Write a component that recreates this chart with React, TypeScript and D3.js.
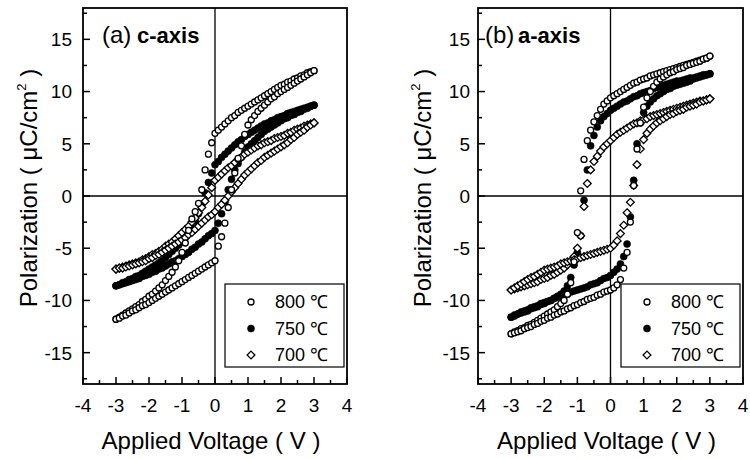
import React from 'react';
import * as d3 from 'd3';

// Applied voltage grid (V)
const VOLT = [
  -3.0, -2.9, -2.8, -2.7, -2.6, -2.5, -2.4, -2.3, -2.2, -2.1,
  -2.0, -1.9, -1.8, -1.7, -1.6, -1.5, -1.4, -1.3, -1.2, -1.1,
  -1.0, -0.9, -0.8, -0.7, -0.6, -0.5, -0.4, -0.3, -0.2, -0.1,
  0.0, 0.1, 0.2, 0.3, 0.4, 0.5, 0.6, 0.7, 0.8, 0.9,
  1.0, 1.1, 1.2, 1.3, 1.4, 1.5, 1.6, 1.7, 1.8, 1.9,
  2.0, 2.1, 2.2, 2.3, 2.4, 2.5, 2.6, 2.7, 2.8, 2.9, 3.0,
];

// (a) c-axis
const C800_UP = [
  -11.8, -11.6, -11.4, -11.2, -11.0, -10.8, -10.6, -10.4, -10.1, -9.9,
  -9.6, -9.4, -9.1, -8.8, -8.5, -8.1, -7.7, -7.3, -6.8, -6.2,
  -5.4, -4.5, -3.3, -2.2, -1.5, -0.7, 0.6, 2.5, 4.0, 5.1,
  6.0, 6.3, 6.6, 6.9, 7.2, 7.5, 7.7, 8.0, 8.2, 8.4,
  8.6, 8.8, 9.0, 9.2, 9.4, 9.6, 9.8, 10.0, 10.2, 10.4,
  10.6, 10.7, 10.9, 11.0, 11.2, 11.3, 11.5, 11.6, 11.8, 11.9, 12.0,
];
const C800_LOW = [
  -11.8, -11.7, -11.5, -11.4, -11.2, -11.0, -10.9, -10.7, -10.5, -10.4,
  -10.2, -10.0, -9.8, -9.6, -9.4, -9.2, -9.0, -8.8, -8.6, -8.4,
  -8.2, -8.0, -7.8, -7.6, -7.4, -7.2, -7.0, -6.8, -6.6, -6.4,
  -6.2, -4.8, -3.9, -2.6, -1.1, 0.6, 2.2, 3.6, 4.8, 5.9,
  6.8, 7.3, 7.7, 8.1, 8.4, 8.7, 9.0, 9.3, 9.5, 9.8,
  10.0, 10.2, 10.4, 10.6, 10.8, 11.0, 11.2, 11.4, 11.6, 11.8, 12.0,
];
const C750_UP = [
  -8.6, -8.5, -8.3, -8.2, -8.0, -7.9, -7.7, -7.6, -7.4, -7.2,
  -7.0, -6.8, -6.6, -6.4, -6.2, -5.9, -5.6, -5.3, -5.0, -4.7,
  -4.4, -4.0, -3.6, -3.1, -2.4, -1.7, -0.8, 0.3, 1.3, 2.2,
  3.0, 3.3, 3.7, 4.0, 4.3, 4.6, 4.9, 5.2, 5.4, 5.7,
  5.9, 6.1, 6.3, 6.5, 6.7, 6.9, 7.0, 7.2, 7.3, 7.5,
  7.6, 7.7, 7.9, 8.0, 8.1, 8.2, 8.3, 8.4, 8.5, 8.6, 8.7,
];
const C750_LOW = [
  -8.6, -8.5, -8.4, -8.3, -8.2, -8.1, -8.0, -7.9, -7.7, -7.6,
  -7.5, -7.3, -7.2, -7.0, -6.9, -6.7, -6.5, -6.3, -6.2, -6.0,
  -5.8, -5.6, -5.4, -5.1, -4.9, -4.6, -4.4, -4.1, -3.8, -3.6,
  -3.3, -2.6, -1.7, -0.6, 0.6, 1.6, 2.5, 3.1, 3.7, 4.2,
  4.7, 5.0, 5.3, 5.6, 5.9, 6.2, 6.4, 6.6, 6.8, 7.0,
  7.2, 7.4, 7.5, 7.7, 7.8, 8.0, 8.1, 8.3, 8.4, 8.6, 8.7,
];
const C700_UP = [
  -7.0, -6.9, -6.8, -6.7, -6.6, -6.5, -6.4, -6.3, -6.1, -6.0,
  -5.8, -5.6, -5.5, -5.3, -5.1, -4.8, -4.6, -4.4, -4.1, -3.8,
  -3.5, -3.2, -2.9, -2.5, -2.1, -1.6, -1.1, -0.5, 0.1, 0.8,
  1.5, 1.8, 2.1, 2.4, 2.7, 2.9, 3.2, 3.5, 3.7, 4.0,
  4.2, 4.4, 4.6, 4.8, 4.9, 5.1, 5.2, 5.3, 5.5, 5.6,
  5.7, 5.8, 6.0, 6.1, 6.3, 6.4, 6.5, 6.7, 6.8, 6.9, 7.0,
];
const C700_LOW = [
  -7.0, -6.9, -6.9, -6.8, -6.7, -6.6, -6.5, -6.4, -6.3, -6.2,
  -6.0, -5.9, -5.7, -5.6, -5.4, -5.2, -5.0, -4.8, -4.6, -4.4,
  -4.2, -4.0, -3.7, -3.5, -3.2, -2.9, -2.6, -2.3, -2.0, -1.8,
  -1.5, -1.1, -0.8, -0.4, 0.0, 0.4, 0.8, 1.2, 1.6, 2.0,
  2.3, 2.6, 2.9, 3.2, 3.4, 3.7, 3.9, 4.1, 4.3, 4.5,
  4.7, 4.9, 5.1, 5.4, 5.6, 5.9, 6.1, 6.3, 6.6, 6.8, 7.0,
];

// (b) a-axis
const A800_UP = [
  -13.2, -13.0, -12.9, -12.7, -12.6, -12.4, -12.3, -12.1, -11.9, -11.7,
  -11.5, -11.3, -11.1, -10.9, -10.6, -10.3, -10.0, -9.4, -8.3, -6.3,
  -3.5, 0.5, 3.5, 5.3, 6.3, 7.1, 7.7, 8.3, 8.8, 9.1,
  9.4, 9.6, 9.8, 10.0, 10.2, 10.4, 10.6, 10.8, 10.9, 11.1,
  11.2, 11.3, 11.5, 11.6, 11.7, 11.8, 11.9, 12.0, 12.1, 12.2,
  12.3, 12.4, 12.5, 12.6, 12.7, 12.8, 12.9, 13.0, 13.1, 13.2, 13.4,
];
const A800_LOW = [
  -13.2, -13.1, -13.0, -12.9, -12.7, -12.6, -12.5, -12.3, -12.2, -12.0,
  -11.9, -11.7, -11.6, -11.4, -11.3, -11.1, -11.0, -10.8, -10.7, -10.5,
  -10.4, -10.2, -10.1, -9.9, -9.8, -9.7, -9.5, -9.4, -9.2, -9.1,
  -9.0, -8.8, -8.5, -8.0, -6.9, -5.4, -2.5, 1.0, 4.5, 7.0,
  8.5, 9.4, 10.0, 10.5, 10.9, 11.2, 11.4, 11.6, 11.8, 11.9,
  12.1, 12.2, 12.3, 12.5, 12.6, 12.7, 12.8, 12.9, 13.1, 13.2, 13.4,
];
const A750_UP = [
  -11.6, -11.5, -11.3, -11.2, -11.1, -11.0, -10.8, -10.7, -10.6, -10.4,
  -10.3, -10.1, -10.0, -9.8, -9.6, -9.4, -9.1, -8.6, -7.8, -6.6,
  -5.4, -3.8, -0.4, 2.5, 4.8, 5.8, 6.6, 7.2, 7.6, 7.9,
  8.2, 8.4, 8.6, 8.8, 9.0, 9.1, 9.3, 9.5, 9.6, 9.8,
  9.9, 10.0, 10.1, 10.3, 10.4, 10.5, 10.6, 10.7, 10.8, 10.9,
  11.0, 11.0, 11.1, 11.2, 11.3, 11.3, 11.4, 11.5, 11.6, 11.6, 11.7,
];
const A750_LOW = [
  -11.6, -11.4, -11.3, -11.1, -11.0, -10.9, -10.7, -10.6, -10.5, -10.3,
  -10.2, -10.1, -10.0, -9.8, -9.7, -9.6, -9.5, -9.4, -9.2, -9.1,
  -9.0, -8.9, -8.8, -8.7, -8.5, -8.4, -8.3, -8.1, -7.9, -7.8,
  -7.6, -7.3, -7.0, -6.5, -5.8, -4.6, -2.0, 1.5, 5.0, 7.0,
  8.0, 8.6, 9.0, 9.3, 9.6, 9.8, 10.0, 10.2, 10.3, 10.5,
  10.6, 10.7, 10.8, 10.9, 11.0, 11.2, 11.3, 11.4, 11.5, 11.6, 11.7,
];
const A700_UP = [
  -9.0, -8.9, -8.8, -8.7, -8.6, -8.5, -8.4, -8.3, -8.2, -8.0,
  -7.9, -7.8, -7.6, -7.5, -7.3, -7.1, -6.9, -6.6, -6.3, -5.8,
  -5.0, -3.8, -1.0, 1.2, 2.5, 3.3, 3.8, 4.3, 4.7, 5.0,
  5.3, 5.6, 5.9, 6.1, 6.3, 6.5, 6.7, 6.9, 7.0, 7.2,
  7.3, 7.4, 7.6, 7.7, 7.8, 7.9, 8.0, 8.1, 8.2, 8.3,
  8.4, 8.5, 8.6, 8.7, 8.8, 8.9, 9.0, 9.1, 9.1, 9.2, 9.3,
];
const A700_LOW = [
  -9.0, -8.8, -8.6, -8.4, -8.2, -8.0, -7.8, -7.7, -7.5, -7.3,
  -7.1, -7.0, -6.9, -6.8, -6.7, -6.5, -6.4, -6.3, -6.2, -6.1,
  -6.0, -5.9, -5.8, -5.7, -5.6, -5.5, -5.4, -5.3, -5.2, -5.1,
  -5.0, -4.7, -4.3, -3.6, -2.8, -1.6, -0.6, 1.0, 3.0, 4.5,
  5.4, 6.0, 6.4, 6.7, 7.0, 7.2, 7.4, 7.6, 7.8, 7.9,
  8.1, 8.2, 8.3, 8.5, 8.6, 8.7, 8.8, 9.0, 9.1, 9.2, 9.3,
];

const Y_TICKS = [-15, -10, -5, 0, 5, 10, 15];
const Y_TICK_LABELS = ['-15', '-10', '-5', '0', '5', '10', '15'];
const Y_MINOR = [-17.5, -12.5, -7.5, -2.5, 2.5, 7.5, 12.5, 17.5];
const X_TICKS = [-4, -3, -2, -1, 0, 1, 2, 3, 4];
const X_TICK_LABELS = ['-4', '-3', '-2', '-1', '0', '1', '2', '3', '4'];
const X_MINOR = [-3.5, -2.5, -1.5, -0.5, 0.5, 1.5, 2.5, 3.5];
const LEGEND_LABELS = ['800 \u2103', '750 \u2103', '700 \u2103'];
const MARKERS = ['circle', 'filled', 'diamond'];

const FONT = '"Liberation Sans", Arial, Helvetica, sans-serif';

type MarkerType = 'circle' | 'filled' | 'diamond';

function Marker({ type, cx, cy }: { type: MarkerType; cx: number; cy: number }) {
  if (type === 'circle') {
    return <circle cx={cx} cy={cy} r={3.0} fill="#fff" stroke="#000" strokeWidth={1.3} />;
  }
  if (type === 'filled') {
    return <circle cx={cx} cy={cy} r={3.5} fill="#000" stroke="#000" strokeWidth={0.6} />;
  }
  const r = 3.9;
  return (
    <path
      d={`M${cx},${cy - r}L${cx + r},${cy}L${cx},${cy + r}L${cx - r},${cy}Z`}
      fill="#fff"
      stroke="#000"
      strokeWidth={1.3}
    />
  );
}

interface SeriesDef {
  type: MarkerType;
  up: number[];
  low: number[];
}

interface PanelProps {
  x0: number;
  x1: number;
  label: string;
  labelX: number;
  labelBold: string;
  labelBoldX: number;
  series: SeriesDef[];
  titleX: number;
  tickLabelGap: number;
}

const Y_TOP = 8;
const Y_BOTTOM = 384;

function Panel({ x0, x1, label, labelX, labelBold, labelBoldX, series, titleX, tickLabelGap }: PanelProps) {
  const x = d3.scaleLinear().domain([-4, 4]).range([x0, x1]);
  const y = d3.scaleLinear().domain([-18, 18]).range([Y_BOTTOM, Y_TOP]);
  const cxMid = (x0 + x1) / 2;
  const lgX = x1 - 122;
  const lgY = 284;
  return (
    <g>
      {/* zero lines */}
      <line x1={x(0)} x2={x(0)} y1={Y_TOP} y2={Y_BOTTOM} stroke="#000" strokeWidth={1.3} />
      <line x1={x0} x2={x1} y1={y(0)} y2={y(0)} stroke="#000" strokeWidth={1.3} />

      {/* data */}
      {series.map((s, si) => (
        <g key={si}>
          {VOLT.map((v, i) => (
            <Marker key={'u' + i} type={s.type} cx={x(v)} cy={y(s.up[i])} />
          ))}
          {VOLT.map((v, i) => (
            <Marker key={'l' + i} type={s.type} cx={x(v)} cy={y(s.low[i])} />
          ))}
        </g>
      ))}

      {/* frame */}
      <rect x={x0} y={Y_TOP} width={x1 - x0} height={Y_BOTTOM - Y_TOP} fill="none" stroke="#000" strokeWidth={1.8} />

      {/* y ticks */}
      {Y_TICKS.map((t, i) => (
        <g key={'yt' + i}>
          <line x1={x0} x2={x0 + 7} y1={y(t)} y2={y(t)} stroke="#000" strokeWidth={1.5} />
          <text
            x={x0 - tickLabelGap}
            y={y(t)}
            dy="0.36em"
            textAnchor="end"
            fontSize={19}
            fontFamily={FONT}
          >
            {Y_TICK_LABELS[i]}
          </text>
        </g>
      ))}
      {Y_MINOR.map((t, i) => (
        <line key={'ym' + i} x1={x0} x2={x0 + 4} y1={y(t)} y2={y(t)} stroke="#000" strokeWidth={1.5} />
      ))}

      {/* x ticks */}
      {X_TICKS.map((t, i) => (
        <g key={'xt' + i}>
          <line x1={x(t)} x2={x(t)} y1={Y_BOTTOM} y2={Y_BOTTOM - 7} stroke="#000" strokeWidth={1.5} />
          <text x={x(t)} y={412} textAnchor="middle" fontSize={19} fontFamily={FONT}>
            {X_TICK_LABELS[i]}
          </text>
        </g>
      ))}
      {X_MINOR.map((t, i) => (
        <line key={'xm' + i} x1={x(t)} x2={x(t)} y1={Y_BOTTOM} y2={Y_BOTTOM - 4} stroke="#000" strokeWidth={1.5} />
      ))}

      {/* axis titles */}
      <text x={cxMid - 4} y={449} textAnchor="middle" fontSize={24} fontFamily={FONT}>
        Applied Voltage ( V )
      </text>
      <text
        transform={`translate(${titleX},188) rotate(-90)`}
        textAnchor="middle"
        fontSize={24}
        fontFamily={FONT}
      >
        Polarization ( μC/cm
        <tspan fontSize={13} dy={-11}>2</tspan>
        <tspan dy={11}> )</tspan>
      </text>

      {/* panel label */}
      <text x={labelX} y={43} fontSize={24} fontFamily={FONT}>
        {label}
      </text>
      <text x={labelBoldX} y={43} fontSize={22} fontWeight="bold" fontFamily={FONT}>
        {labelBold}
      </text>

      {/* legend */}
      <rect x={lgX} y={lgY} width={119} height={83} fill="#fff" stroke="#000" strokeWidth={1.2} />
      {LEGEND_LABELS.map((lab, i) => (
        <g key={'lg' + i}>
          <Marker type={MARKERS[i] as MarkerType} cx={lgX + 26} cy={lgY + 18 + i * 26.5} />
          <text x={lgX + 50} y={lgY + 18 + i * 26.5} dy="0.36em" fontSize={18} fontFamily={FONT}>
            {lab}
          </text>
        </g>
      ))}
    </g>
  );
}

export default function App() {
  const left: SeriesDef[] = [
    { type: 'filled', up: C750_UP, low: C750_LOW },
    { type: 'diamond', up: C700_UP, low: C700_LOW },
    { type: 'circle', up: C800_UP, low: C800_LOW },
  ];
  const right: SeriesDef[] = [
    { type: 'filled', up: A750_UP, low: A750_LOW },
    { type: 'diamond', up: A700_UP, low: A700_LOW },
    { type: 'circle', up: A800_UP, low: A800_LOW },
  ];
  return (
    <svg
      width={750}
      height={459}
      viewBox="0 0 750 459"
      style={{ position: 'absolute', left: 0, top: 0, background: '#fff' }}
    >
      <rect x={0} y={0} width={750} height={459} fill="#fff" />
      <Panel
        x0={83}
        x1={347}
        label="(a)"
        labelX={102}
        labelBold="c-axis"
        labelBoldX={137}
        series={left}
        titleX={37}
        tickLabelGap={11}
      />
      <Panel
        x0={478}
        x1={743}
        label="(b)"
        labelX={485}
        labelBold="a-axis"
        labelBoldX={518}
        series={right}
        titleX={431}
        tickLabelGap={8}
      />
    </svg>
  );
}
